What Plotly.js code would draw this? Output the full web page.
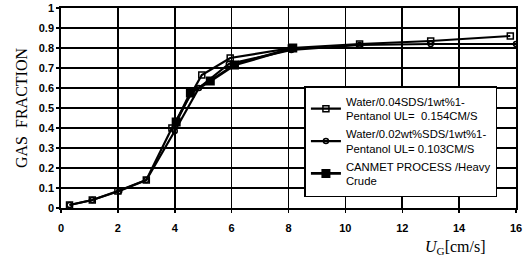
<!DOCTYPE html>
<html><head><meta charset="utf-8">
<script src="https://cdn.plot.ly/plotly-3.0.1.min.js"></script>
<style>body{margin:0;background:#fff}#c{width:523px;height:262px}</style>
</head><body><div id="c"></div>
<script>
var s1x = [0.3, 1.1, 2.0, 3.0, 3.9, 4.95, 5.95, 8.1, 10.5, 13.0, 15.8];
var s1y = [0.015, 0.04, 0.085, 0.14, 0.40, 0.665, 0.75, 0.80, 0.82, 0.835, 0.86];
var s2x = [0.3, 1.1, 2.05, 3.0, 4.0, 4.85, 5.9, 8.1, 10.5, 13.0, 16.0];
var s2y = [0.015, 0.04, 0.085, 0.14, 0.385, 0.60, 0.72, 0.79, 0.815, 0.82, 0.82];
var s3x = [4.05, 4.55, 5.25, 6.1, 8.15];
var s3y = [0.43, 0.575, 0.635, 0.715, 0.80];
var names = ["Water/0.04SDS/1wt%1-<br>Pentanol UL=  0.154CM/S",
             "Water/0.02wt%SDS/1wt%1-<br>Pentanol UL= 0.103CM/S",
             "CANMET PROCESS /Heavy<br>Crude"];
var xTicks = [0, 2, 4, 6, 8, 10, 12, 14, 16];
var yTicks = [0, 0.1, 0.2, 0.3, 0.4, 0.5, 0.6, 0.7, 0.8, 0.9, 1];
var yTickText = ["0", "0.1", "0.2", "0.3", "0.4", "0.5", "0.6", "0.7", "0.8", "0.9", "1"];

var traces = [
  {x: s1x, y: s1y, name: names[0], mode: "lines+markers",
   line: {color: "#000", width: 2.2},
   marker: {symbol: "square-open", size: 6, color: "#000", line: {width: 1.5, color: "#000"}}},
  {x: s2x, y: s2y, name: names[1], mode: "lines+markers",
   line: {color: "#000", width: 2.2},
   marker: {symbol: "circle-open", size: 5, color: "#000", line: {width: 1.5, color: "#000"}}},
  {x: s3x, y: s3y, name: names[2], mode: "lines+markers",
   line: {color: "#000", width: 2.8},
   marker: {symbol: "square", size: 9, color: "#000"}}
];

var tickFont = {family: "Liberation Sans, Arial, sans-serif", size: 11, color: "#000", weight: "bold"};
var layout = {
  width: 523, height: 262,
  margin: {l: 61, r: 7, t: 8, b: 54},
  paper_bgcolor: "#fff", plot_bgcolor: "#fff",
  showlegend: true,
  legend: {x: 0.535, y: 0.61, xanchor: "left", yanchor: "top",
           bgcolor: "#fff", bordercolor: "#000", borderwidth: 1.5,
           font: {family: "Liberation Sans, Arial, sans-serif", size: 11.3, color: "#000"},
           tracegroupgap: 0, itemwidth: 30},
  xaxis: {range: [0, 16], tickvals: xTicks, ticktext: xTicks.map(String),
          showgrid: true, gridcolor: "#000", gridwidth: 1.6,
          showline: true, linecolor: "#000", linewidth: 1.8, mirror: true,
          ticks: "outside", ticklen: 3, tickwidth: 1.5, tickcolor: "#000", zeroline: false,
          ticklabelstandoff: 6, tickfont: tickFont},
  yaxis: {range: [0, 1], tickvals: yTicks, ticktext: yTickText,
          showgrid: true, gridcolor: "#000", gridwidth: 1.6,
          showline: true, linecolor: "#000", linewidth: 1.8, mirror: true,
          ticks: "outside", ticklen: 3, tickwidth: 1.5, tickcolor: "#000", zeroline: false,
          tickfont: tickFont,
          title: {text: "GAS  FRACTION", standoff: 7,
                  font: {family: "Liberation Serif, Times New Roman, serif", size: 16, color: "#000"}}},
  annotations: [{xref: "paper", yref: "paper", x: 0.868, y: -0.195, xanchor: "center", yanchor: "middle",
                 showarrow: false, text: "<i>U</i><sub>G</sub>[cm/s]",
                 font: {family: "Liberation Serif, Times New Roman, serif", size: 16, color: "#000"}}]
};
Plotly.newPlot("c", traces, layout, {displayModeBar: false, staticPlot: true});
</script></body></html>
